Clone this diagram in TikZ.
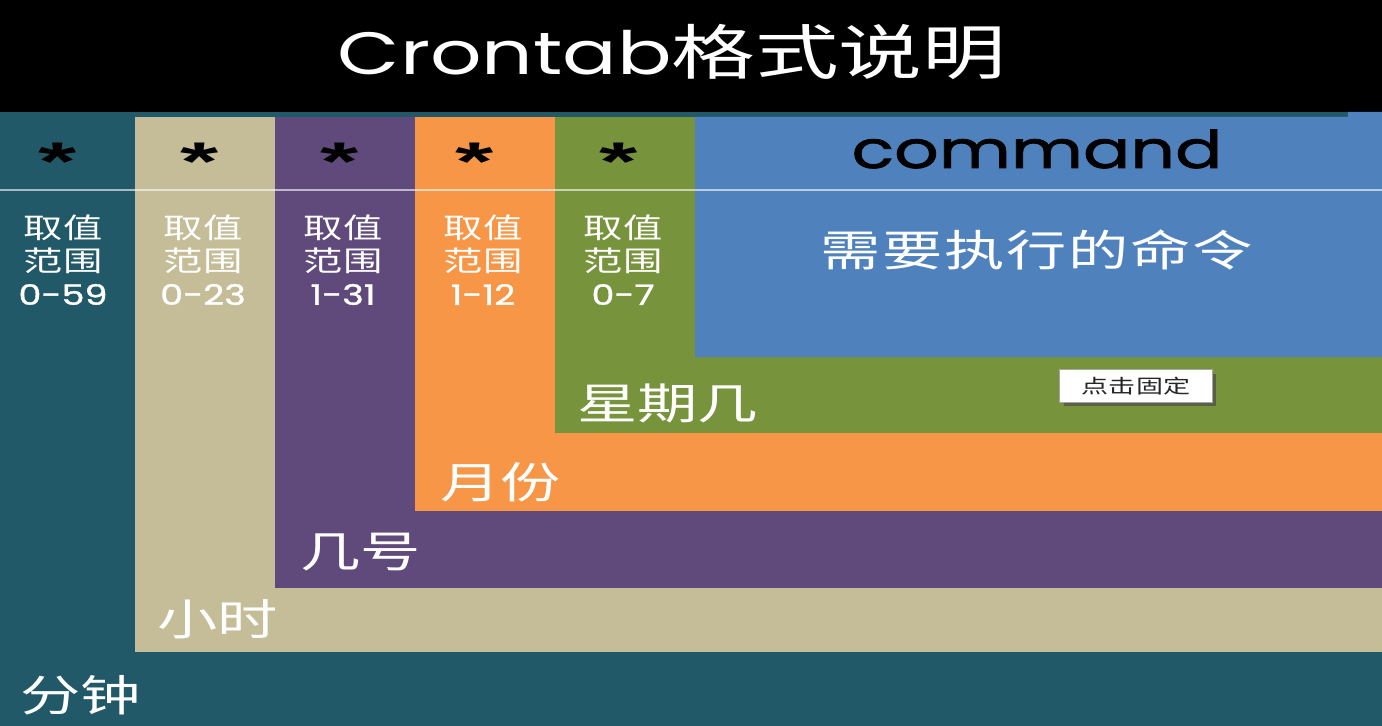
\documentclass[tikz,border=0pt]{standalone}
\usepackage{fontspec}
\newfontfamily\cjkfont[FakeStretch=1.4]{Noto Sans CJK SC}
\newfontfamily\latfont[FakeStretch=1.35]{Poppins}
\newfontfamily\numfont[FakeStretch=1.3,FakeBold=1.2]{Poppins}
\newfontfamily\cmdfont[FakeStretch=1.35,FakeBold=1.5]{Poppins}
\newfontfamily\starfont[FakeStretch=1.8]{Liberation Sans}
\definecolor{minteal}{HTML}{215968}
\definecolor{hourbeige}{HTML}{C4BD97}
\definecolor{daypurple}{HTML}{604A7B}
\definecolor{monthorange}{HTML}{F79646}
\definecolor{weekgreen}{HTML}{77933C}
\definecolor{cmdblue}{HTML}{4F81BD}

\begin{document}
\begin{tikzpicture}[
  x=0.02cm,y=-0.02cm,
  every node/.style={inner sep=0pt,outer sep=0pt},
  headline/.style={text=white,font=\fontsize{34}{40}\selectfont},
  starlbl/.style={anchor=base,font=\starfont\bfseries\fontsize{31}{31}\selectfont},
  rangelbl/.style={text=white,align=center,font=\cjkfont\fontsize{16}{18.8}\selectfont},
  fieldlbl/.style={text=white,anchor=west,font=\cjkfont\fontsize{24.5}{28}\selectfont},
  pinbox/.style={draw=gray!70,fill=white,line width=0.6pt,minimum width=3.06cm,minimum height=0.66cm,
    text=gray!30!black,font=\cjkfont\fontsize{11}{12}\selectfont}
]
\useasboundingbox (0,0) rectangle (1382,726);

% bands, from outside in
\fill[black] (0,0) rectangle (1382,112);
\fill[minteal] (0,112) rectangle (1382,726);
\fill[hourbeige] (135,117) rectangle (1382,652);
\fill[daypurple] (275,117) rectangle (1382,588);
\fill[monthorange] (415,117) rectangle (1382,511);
\fill[weekgreen] (555,117) rectangle (1382,433);
\fill[cmdblue] (695,117) -- (1348,117) -- (1348,112) -- (1382,112) -- (1382,357) -- (695,357) -- cycle;
\draw[white,opacity=0.6,line width=1.2pt] (0,190) -- (1382,190);

\node[headline] (title) at (672,52) {{\latfont Crontab}{\cjkfont 格式说明}};

% one column per field
\node[starlbl] (smin) at (58,181) {*};
\node[starlbl] (shour) at (200,181) {*};
\node[starlbl] (sday) at (340,181) {*};
\node[starlbl] (smonth) at (475,181) {*};
\node[starlbl] (sweek) at (619,181) {*};
\node[anchor=base,font=\cmdfont\fontsize{29.5}{30}\selectfont] (cmd) at (1037,168) {command};

\node[rangelbl] (rmin) at (63,260) {取值\\范围\\{\numfont 0-59}};
\node[rangelbl] (rhour) at (203,260) {取值\\范围\\{\numfont 0-23}};
\node[rangelbl] (rday) at (343,260) {取值\\范围\\{\numfont 1-31}};
\node[rangelbl] (rmonth) at (483,260) {取值\\范围\\{\numfont 1-12}};
\node[rangelbl] (rweek) at (623,260) {取值\\范围\\{\numfont 0-7}};
\node[text=white,font=\cjkfont\addfontfeature{LetterSpace=4}\fontsize{24.5}{28}\selectfont] (cmddesc) at (1037,250) {需要执行的命令};

\node[fieldlbl] (fweek) at (577,403) {星期几};
\node[fieldlbl] (fmonth) at (440,482) {月份};
\node[fieldlbl] (fday) at (300,552) {几号};
\node[fieldlbl] (fhour) at (157,619) {小时};
\node[fieldlbl] (fmin) at (20,695) {分钟};

\fill[gray!60!black,opacity=0.7] (1064,374) rectangle (1216,406);
\node[pinbox] (pin) at (1136,386) {点击固定};
\end{tikzpicture}
\end{document}
